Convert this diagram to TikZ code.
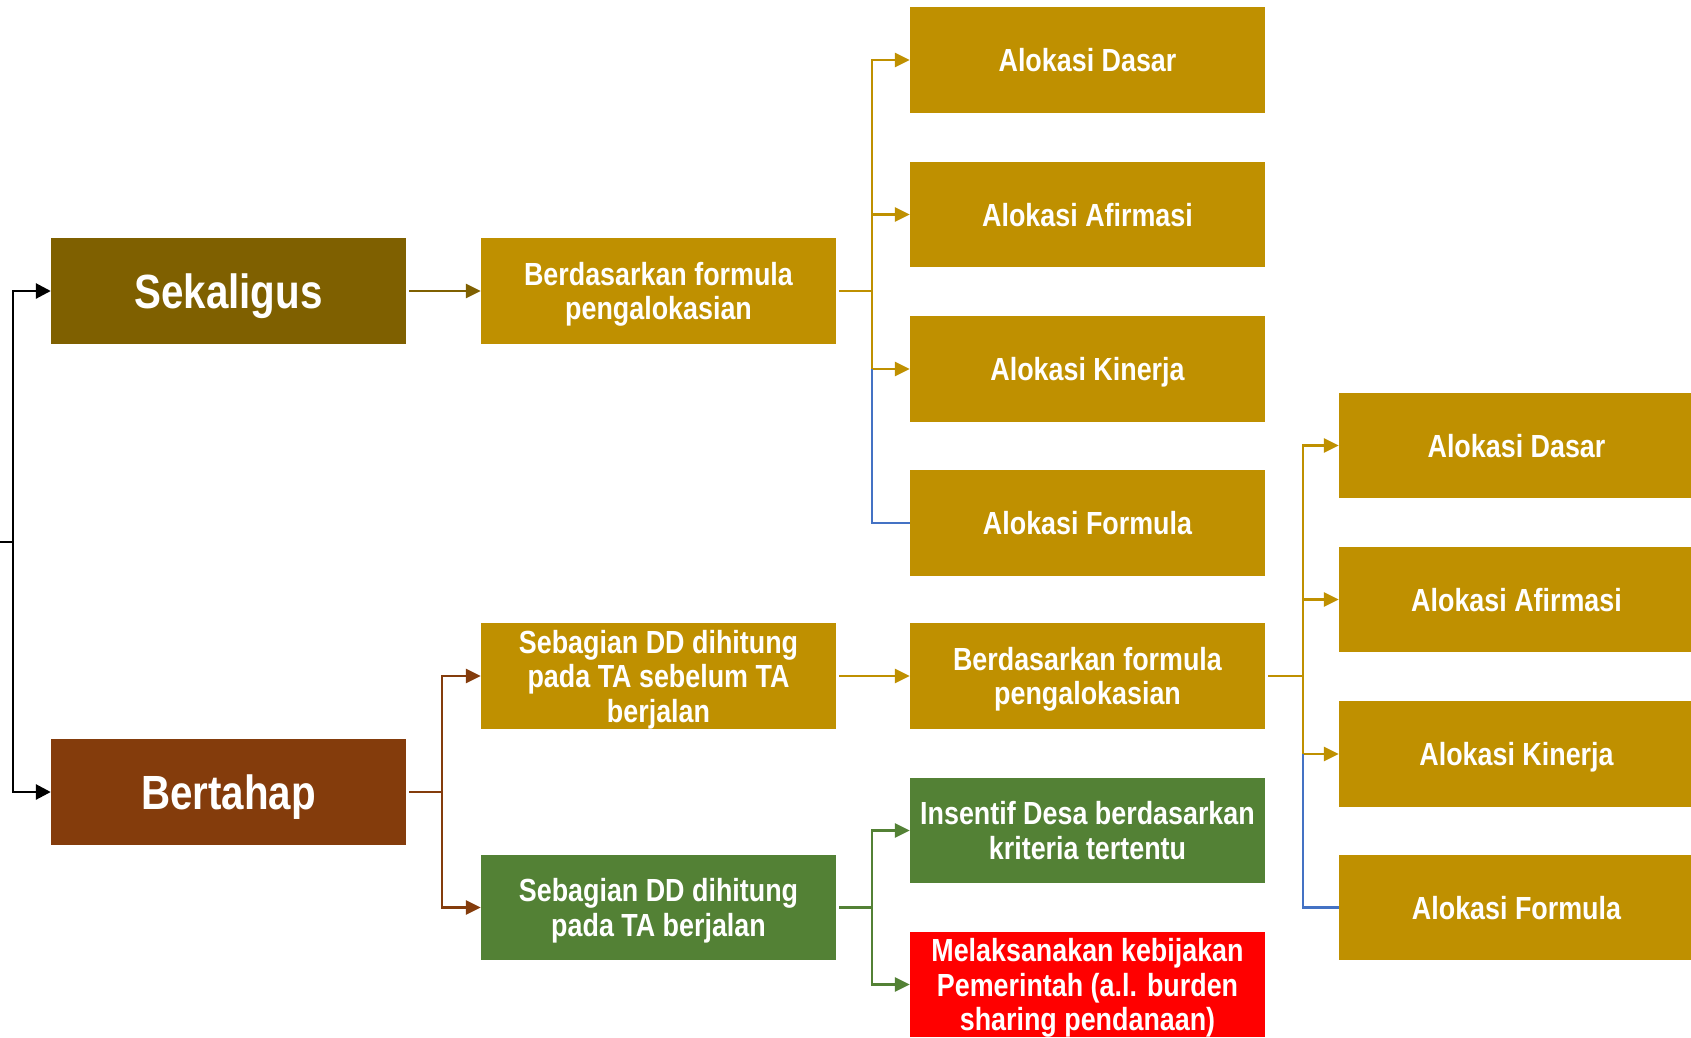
\documentclass[tikz,border=0pt]{standalone}
\usepackage{fontspec}
\setmainfont{Liberation Sans}[FakeStretch=0.84]
\usetikzlibrary{arrows.meta}
\definecolor{cSek}{HTML}{7F6000}
\definecolor{cBer}{HTML}{843C0C}
\definecolor{cGold}{HTML}{BF9000}
\definecolor{cGreen}{HTML}{538135}
\definecolor{cRed}{HTML}{FF0000}
\definecolor{cBlue}{HTML}{4472C4}
% last line of a label: its descenders do not count for centring
\newcommand{\lastln}[1]{\raisebox{0pt}[\height][0pt]{#1}}
\begin{document}
\begin{tikzpicture}[x=1pt,y=-1pt,
  box/.style={minimum width=355pt, minimum height=105.6pt, inner sep=0pt, align=center, text=white,
    font=\fontsize{32}{34.5}\selectfont\bfseries},
  big/.style={font=\fontsize{48}{52}\selectfont\bfseries},
  ln/.style={line width=2.6pt},
  conn/.style={ln, -{Triangle[length=15pt,width=14pt]}},
  blk/.style={line width=2.8pt, black},
  blkarr/.style={blk, -{Triangle[length=15pt,width=15pt]}}
]
\useasboundingbox (0,0) rectangle (1691,1037);
\clip (0,0) rectangle (1691,1037);

% column 1
\node[box,big,fill=cSek] (sek) at (228.5,291) {\lastln{Sekaligus}};
\node[box,big,fill=cBer] (ber) at (228.5,792) {\lastln{Bertahap}};
% column 2
\node[box,fill=cGold] (bf1) at (658.5,291) {Berdasarkan formula\\\lastln{pengalokasian}};
\node[box,fill=cGold] (sb1) at (658.5,676) {Sebagian DD dihitung\\pada TA sebelum TA\\\lastln{berjalan}};
\node[box,fill=cGreen] (sb2) at (658.5,907.5) {Sebagian DD dihitung\\\lastln{pada TA berjalan}};
% column 3
\node[box,fill=cGold] (ad1) at (1087.5,60) {\lastln{Alokasi Dasar}};
\node[box,fill=cGold] (af1) at (1087.5,214.5) {\lastln{Alokasi Afirmasi}};
\node[box,fill=cGold] (ak1) at (1087.5,369) {\lastln{Alokasi Kinerja}};
\node[box,fill=cGold] (ao1) at (1087.5,523) {\lastln{Alokasi Formula}};
\node[box,fill=cGold] (bf2) at (1087.5,676) {Berdasarkan formula\\\lastln{pengalokasian}};
\node[box,fill=cGreen] (ins) at (1087.5,830.5) {Insentif Desa berdasarkan\\\lastln{kriteria tertentu}};
\node[box,fill=cRed] (mel) at (1087.5,984.5) {Melaksanakan kebijakan\\Pemerintah (a.l. burden\\\lastln{sharing pendanaan)}};
% column 4
\node[box,fill=cGold] (ad2) at (1516.5,445.5) {\lastln{Alokasi Dasar}};
\node[box,fill=cGold] (af2) at (1516.5,599.5) {\lastln{Alokasi Afirmasi}};
\node[box,fill=cGold] (ak2) at (1516.5,754) {\lastln{Alokasi Kinerja}};
\node[box,fill=cGold] (ao2) at (1516.5,907.5) {\lastln{Alokasi Formula}};

% left black connector
\coordinate (lstart) at (0,542);
\coordinate (jL) at (13,542);
\draw[blk] (lstart) -- (jL);
\draw[blkarr] (jL) |- (sek.west);
\draw[blkarr] (jL) |- (ber.west);

% Sekaligus -> Berdasarkan
\draw[conn,cSek] ([xshift=3pt]sek.east) -- (bf1.west);

% Berdasarkan -> column 3 top
\coordinate (t1) at (872,291);
\draw[ln,cGold] ([xshift=3pt]bf1.east) -- (t1);
\draw[conn,cGold] (t1) |- (ad1.west);
\draw[conn,cGold] (t1) |- (af1.west);
\draw[conn,cGold] (t1) |- (ak1.west);
\draw[ln,cBlue] (ak1.west -| t1) |- (ao1.west);

% Bertahap -> Sebagian
\coordinate (t2) at (442,792);
\draw[ln,cBer] ([xshift=3pt]ber.east) -- (t2);
\draw[conn,cBer] (t2) |- (sb1.west);
\draw[conn,cBer] (t2) |- (sb2.west);

% Sebagian 1 -> Berdasarkan 2
\draw[conn,cGold] ([xshift=3pt]sb1.east) -- (bf2.west);

% Berdasarkan 2 -> column 4
\coordinate (t3) at (1303,676);
\draw[ln,cGold] ([xshift=3pt]bf2.east) -- (t3);
\draw[conn,cGold] (t3) |- (ad2.west);
\draw[conn,cGold] (t3) |- (af2.west);
\draw[conn,cGold] (t3) |- (ak2.west);
\draw[ln,cBlue] (ak2.west -| t3) |- (ao2.west);

% Sebagian 2 -> green branch
\coordinate (t4) at (872,907.5);
\draw[ln,cGreen] ([xshift=3pt]sb2.east) -- (t4);
\draw[conn,cGreen] (t4) |- (ins.west);
\draw[conn,cGreen] (t4) |- (mel.west);
\end{tikzpicture}
\end{document}
